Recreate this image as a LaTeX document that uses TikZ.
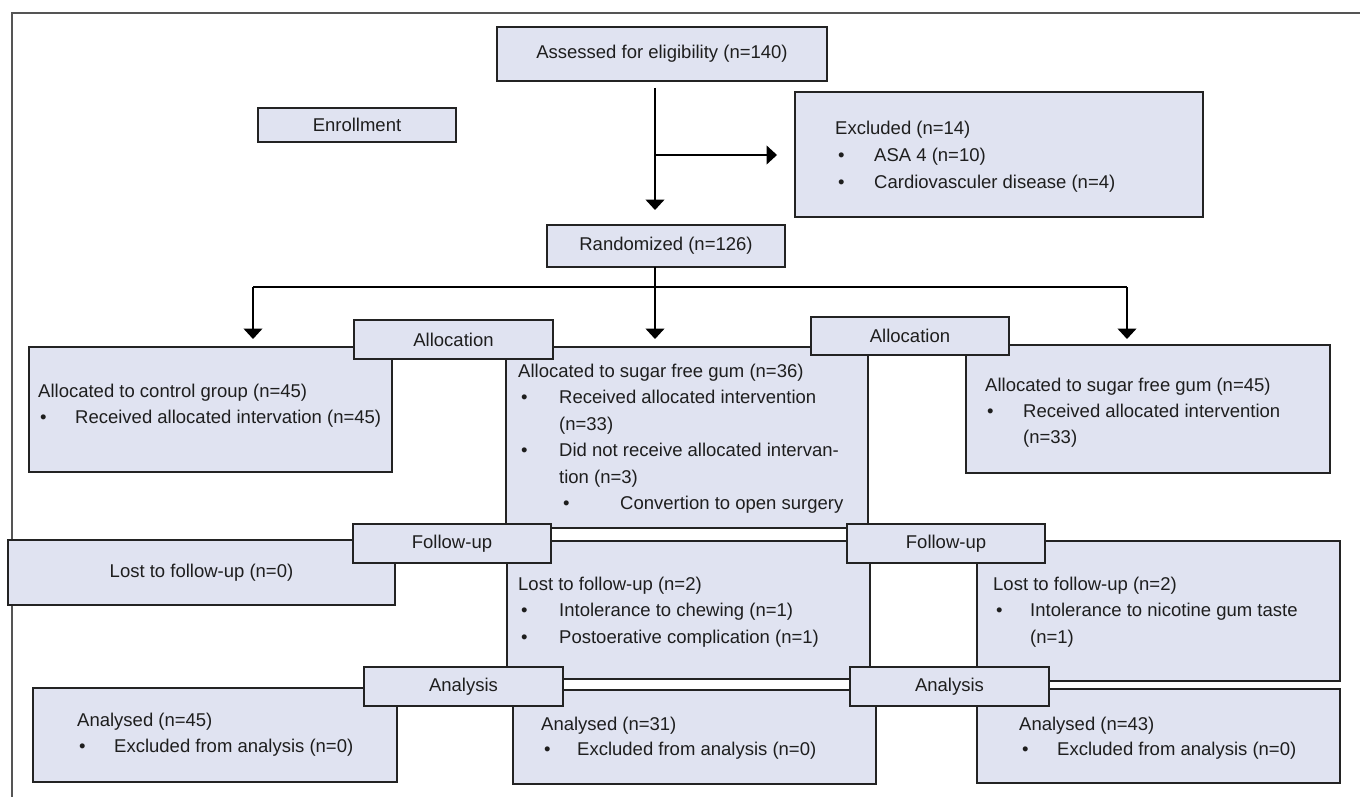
\documentclass[tikz,border=0pt]{standalone}
\usepackage{fontspec}
\setmainfont{Liberation Sans}
\usetikzlibrary{arrows.meta}
\definecolor{boxfill}{RGB}{224,227,241}
\definecolor{boxline}{RGB}{35,35,35}
\definecolor{framegray}{RGB}{85,85,85}
\definecolor{txtcol}{RGB}{30,30,30}
\begin{document}
\begin{tikzpicture}[x=1pt,y=-1pt,
  font=\fontsize{18.5}{26}\selectfont,
  box/.style={draw=boxline,fill=boxfill,line width=1.3pt,inner sep=0pt,rectangle,text=txtcol},
  txt/.style={anchor=base west,inner sep=0pt,text=txtcol},
  conn/.style={line width=1.3pt,draw=black},
  arr/.style={conn,-{Triangle[width=19pt,length=10.5pt]}}]
\useasboundingbox (0,0) rectangle (1360,797);
% frame
\coordinate (f1) at (12,797); \coordinate (f2) at (12,13); \coordinate (f3) at (1360,13);
\draw[framegray,line width=2pt] (f1) -- (f2) -- (f3);
% top part
\node[box,minimum width=330pt,minimum height=54pt] (assess) at (662,54) {Assessed for eligibility (n=140)};
\node[box,minimum width=198pt,minimum height=34pt] (enroll) at (357,125) {Enrollment};
\node[box,minimum width=408pt,minimum height=125pt] (excl) at (999,154.5) {};
\node[box,minimum width=238pt,minimum height=42pt] (rand) at (666,246) {Randomized (n=126)};
% excluded text
\node[txt] (ex1) at (835,135) {Excluded (n=14)};
\node[txt] (ex2b) at (838,161.5) {•};
\node[txt] (ex2) at (874,161.5) {ASA 4 (n=10)};
\node[txt] (ex3b) at (838,188) {•};
\node[txt] (ex3) at (874,188) {Cardiovasculer disease (n=4)};
% arrows top
\coordinate (a1) at (655,88); \coordinate (a2) at (655,210);
\coordinate (b1) at (655,155); \coordinate (b2) at (777,155);
\draw[arr] (a1) -- (a2);
\draw[arr] (b1) -- (b2);
% randomized split
\coordinate (r0) at (655,267); \coordinate (rm) at (655,339);
\coordinate (hl) at (253,287); \coordinate (hr) at (1127,287);
\coordinate (ll) at (253,339); \coordinate (rr) at (1127,339);
\draw[conn] (hl) -- (hr);
\draw[arr] (r0) -- (rm);
\draw[arr] (hl) -- (ll);
\draw[arr] (hr) -- (rr);
% allocation boxes
\node[box,minimum width=363pt,minimum height=125pt] (ctrl) at (210.5,409.5) {};
\node[box,minimum width=362pt,minimum height=181pt] (malloc) at (687,437.5) {};
\node[box,minimum width=364pt,minimum height=128pt] (ralloc) at (1148,409) {};
% follow-up boxes
\node[box,minimum width=387pt,minimum height=65pt] (lfu) at (201.5,572.5) {Lost to follow-up (n=0)};
\node[box,minimum width=363pt,minimum height=138pt] (mfu) at (688.5,610) {};
\node[box,minimum width=363pt,minimum height=140pt] (rfu) at (1158.5,611) {};
% analysis boxes
\node[box,minimum width=364pt,minimum height=94pt] (lan) at (215,735) {};
\node[box,minimum width=363pt,minimum height=94pt] (man) at (694.5,737) {};
\node[box,minimum width=363pt,minimum height=94pt] (ran) at (1158.5,736) {};
% stage labels
\node[box,minimum width=199pt,minimum height=39pt] (allocA) at (453.5,339.5) {Allocation};
\node[box,minimum width=198pt,minimum height=38pt] (allocB) at (910,336) {Allocation};
\node[box,minimum width=198pt,minimum height=39pt] (fuA) at (452,543.5) {Follow-up};
\node[box,minimum width=198pt,minimum height=39pt] (fuB) at (946,543.5) {Follow-up};
\node[box,minimum width=199pt,minimum height=39pt] (anA) at (463.5,686.5) {Analysis};
\node[box,minimum width=199pt,minimum height=39pt] (anB) at (949.5,686.5) {Analysis};
% control text
\node[txt] (c1) at (38,397) {Allocated to control group (n=45)};
\node[txt] (c2b) at (40,423) {•};
\node[txt] (c2) at (75,423) {Received allocated intervation (n=45)};
% middle allocation text
\node[txt] (m1) at (518,377) {Allocated to sugar free gum (n=36)};
\node[txt] (m2b) at (521,403.5) {•};
\node[txt] (m2) at (559,403.5) {Received allocated intervention};
\node[txt] (m3) at (559,430) {(n=33)};
\node[txt] (m4b) at (521,456.5) {•};
\node[txt] (m4) at (559,456.5) {Did not receive allocated intervan-};
\node[txt] (m5) at (559,483) {tion (n=3)};
\node[txt] (m6b) at (563,509.5) {•};
\node[txt] (m6) at (620,509.5) {Convertion to open surgery};
% right allocation text
\node[txt] (q1) at (985,391) {Allocated to sugar free gum (n=45)};
\node[txt] (q2b) at (987,417) {•};
\node[txt] (q2) at (1023,417) {Received allocated intervention};
\node[txt] (q3) at (1023,443) {(n=33)};
% middle follow-up text
\node[txt] (u1) at (518,590) {Lost to follow-up (n=2)};
\node[txt] (u2b) at (521,616.5) {•};
\node[txt] (u2) at (559,616.5) {Intolerance to chewing (n=1)};
\node[txt] (u3b) at (521,643) {•};
\node[txt] (u3) at (559,643) {Postoerative complication (n=1)};
% right follow-up text
\node[txt] (v1) at (993,590) {Lost to follow-up (n=2)};
\node[txt] (v2b) at (996,616.5) {•};
\node[txt] (v2) at (1030,616.5) {Intolerance to nicotine gum taste};
\node[txt] (v3) at (1030,643) {(n=1)};
% analysis texts
\node[txt] (w1) at (77,726) {Analysed (n=45)};
\node[txt] (w2b) at (79,752) {•};
\node[txt] (w2) at (114,752) {Excluded from analysis (n=0)};
\node[txt] (x1) at (541,730) {Analysed (n=31)};
\node[txt] (x2b) at (544,755.5) {•};
\node[txt] (x2) at (577,755.5) {Excluded from analysis (n=0)};
\node[txt] (y1) at (1019,730) {Analysed (n=43)};
\node[txt] (y2b) at (1022,755.5) {•};
\node[txt] (y2) at (1057,755.5) {Excluded from analysis (n=0)};
\end{tikzpicture}
\end{document}
